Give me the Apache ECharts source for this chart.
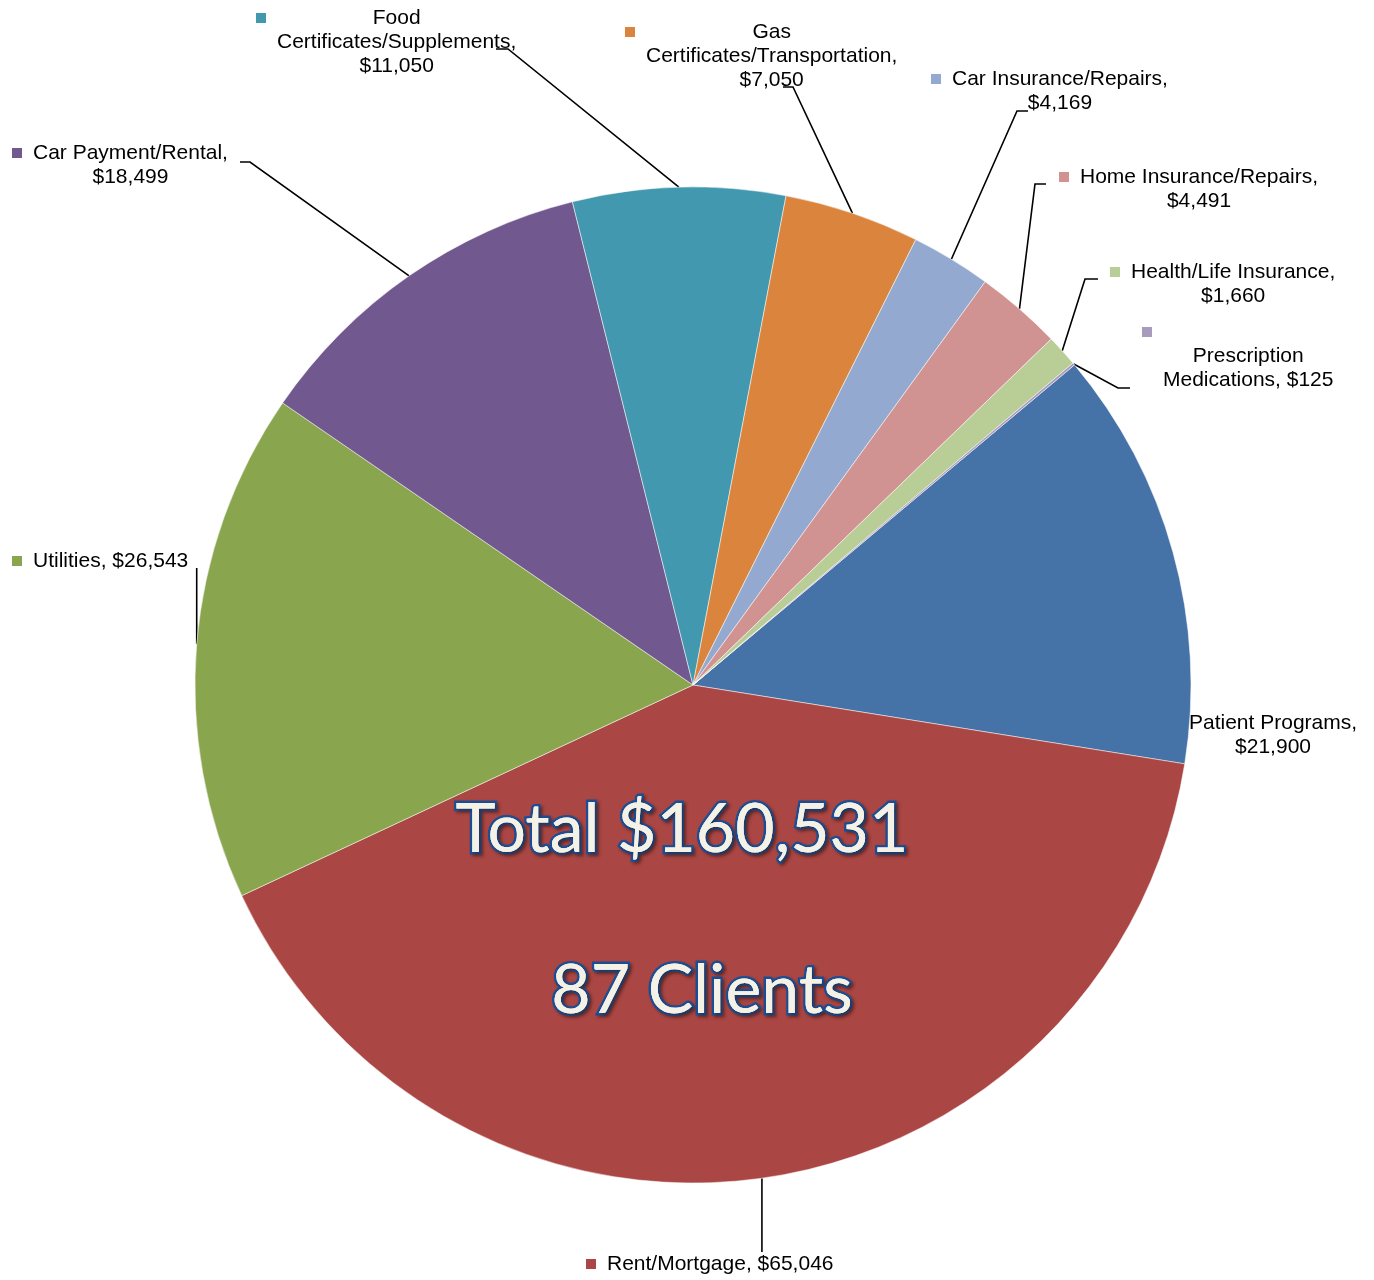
<!DOCTYPE html>
<html>
<head>
<meta charset="utf-8">
<script src="https://cdn.jsdelivr.net/npm/echarts@6/dist/echarts.min.js"></script>
<style>
html, body { margin: 0; padding: 0; background: #fff; }
#chart { width: 1374px; height: 1280px; }
</style>
</head>
<body>
<div id="chart"></div>
<script>
const categories = [
    'Patient Programs', 'Rent/Mortgage', 'Utilities', 'Car Payment/Rental',
    'Food Certificates/Supplements', 'Gas Certificates/Transportation',
    'Car Insurance/Repairs', 'Home Insurance/Repairs', 'Health/Life Insurance',
    'Prescription Medications',
];
const amounts = [21900, 65046, 26543, 18499, 11050, 7050, 4169, 4491, 1660, 125];
// how each label wraps, {v} is the amount
const labelRows = [
    ['Patient Programs,', '{v}'],
    ['Rent/Mortgage, {v}'],
    ['Utilities, {v}'],
    ['Car Payment/Rental,', '{v}'],
    ['Food', 'Certificates/Supplements,', '{v}'],
    ['Gas', 'Certificates/Transportation,', '{v}'],
    ['Car Insurance/Repairs,', '{v}'],
    ['Home Insurance/Repairs,', '{v}'],
    ['Health/Life Insurance,', '{v}'],
    ['', 'Prescription', 'Medications, {v}'],
];
const totalText = 'Total $160,531';
const clientsText = '87 Clients';

const colors = ['#4572a7', '#aa4643', '#89a54e', '#71588f', '#4198af',
    '#db843d', '#93a9cf', '#d19392', '#b9cd96', '#a99bbd'];
const showKey = [false, true, true, true, true, true, true, true, true, true];

// label placement: top-left of label box, then leader line bend + end
// (null x = straight up/down from the slice edge)
const labelSpots = [
    {x: 1189, y: 711},
    {x: 586, y: 1252, bend: [null, 1252], end: [null, 1252]},
    {x: 12, y: 549, bend: [null, 568], end: [null, 568]},
    {x: 12, y: 141, bend: [250, 162], end: [240, 162]},
    {x: 256, y: 6, bend: [508, 49], end: [496, 49]},
    {x: 625, y: 20, bend: [793, 87], end: [783, 87]},
    {x: 931, y: 67, bend: [1017, 111], end: [1028, 111]},
    {x: 1059, y: 165, bend: [1035, 184], end: [1046, 184]},
    {x: 1110, y: 260, bend: [1085, 279], end: [1098, 279]},
    {x: 1142, y: 320, bend: [1118, 388], end: [1130, 388]},
];

const labelFont = '"Liberation Sans", Arial, sans-serif';
const money = v => '$' + v.toLocaleString('en-US');

const rich = {
    t: {align: 'center', verticalAlign: 'middle', fontSize: 21, lineHeight: 24,
        color: '#000', fontFamily: labelFont},
    g: {width: 11, align: 'left', verticalAlign: 'middle', lineHeight: 24},
    g2: {width: 21, align: 'left', verticalAlign: 'middle', lineHeight: 24},
};
colors.forEach((c, i) => {
    rich['sq' + i] = {width: 10, height: 10, backgroundColor: c, align: 'left',
        verticalAlign: 'middle', lineHeight: 24};
});

function labelText(p) {
    const i = p.dataIndex;
    return labelRows[i].map((row, r) => {
        const txt = row.replace('{v}', money(amounts[i]));
        let pre = '';
        if (showKey[i]) {
            pre = r === 0 ? `{sq${i}|}{g|}` : '{g2|}';
        }
        return pre + (txt ? `{t|${txt}}` : '');
    }).join('\n');
}

function bigText(text, x, y, outlined) {
    return {
        type: 'text',
        x,
        y,
        z: outlined ? 100 : 101,
        silent: true,
        style: Object.assign({
            text,
            font: '68px Lato',
            fill: '#f4f1e6',
            align: 'center',
            verticalAlign: 'middle',
        }, outlined ? {
            stroke: '#1d4e93',
            lineWidth: 5,
            textShadowColor: 'rgba(40,20,20,0.45)',
            textShadowBlur: 3,
            textShadowOffsetX: 2,
            textShadowOffsetY: 2,
        } : {}),
    };
}

const chart = echarts.init(document.getElementById('chart'));
chart.setOption({
    animation: false,
    backgroundColor: '#fff',
    series: [{
        type: 'pie',
        center: [693, 685],
        radius: 498,
        startAngle: 40,
        clockwise: true,
        avoidLabelOverlap: false,
        itemStyle: {borderColor: 'rgba(255,255,255,0.5)', borderWidth: 1},
        emphasis: {disabled: true},
        label: {
            show: true,
            position: 'outside',
            formatter: labelText,
            rich,
            color: '#000',
            fontFamily: labelFont,
            fontSize: 21,
            lineHeight: 24,
        },
        labelLine: {
            show: true,
            length: 0,
            length2: 0,
            lineStyle: {color: '#000', width: 1.6},
        },
        labelLayout: p => {
            const s = labelSpots[p.dataIndex];
            const out = {x: s.x, y: s.y, align: 'left', verticalAlign: 'top'};
            if (s.end && p.labelLinePoints) {
                const edge = p.labelLinePoints[0];
                const fix = pt => [pt[0] == null ? edge[0] : pt[0], pt[1]];
                out.labelLinePoints = [edge, fix(s.bend), fix(s.end)];
            }
            return out;
        },
        data: categories.map((name, i) => ({
            name,
            value: amounts[i],
            itemStyle: {color: colors[i]},
            labelLine: {show: !!labelSpots[i].end},
        })),
    }],
    graphic: [
        bigText(totalText, 682, 830, true),
        bigText(totalText, 682, 830, false),
        bigText(clientsText, 702, 991, true),
        bigText(clientsText, 702, 991, false),
    ],
});
</script>
</body>
</html>
